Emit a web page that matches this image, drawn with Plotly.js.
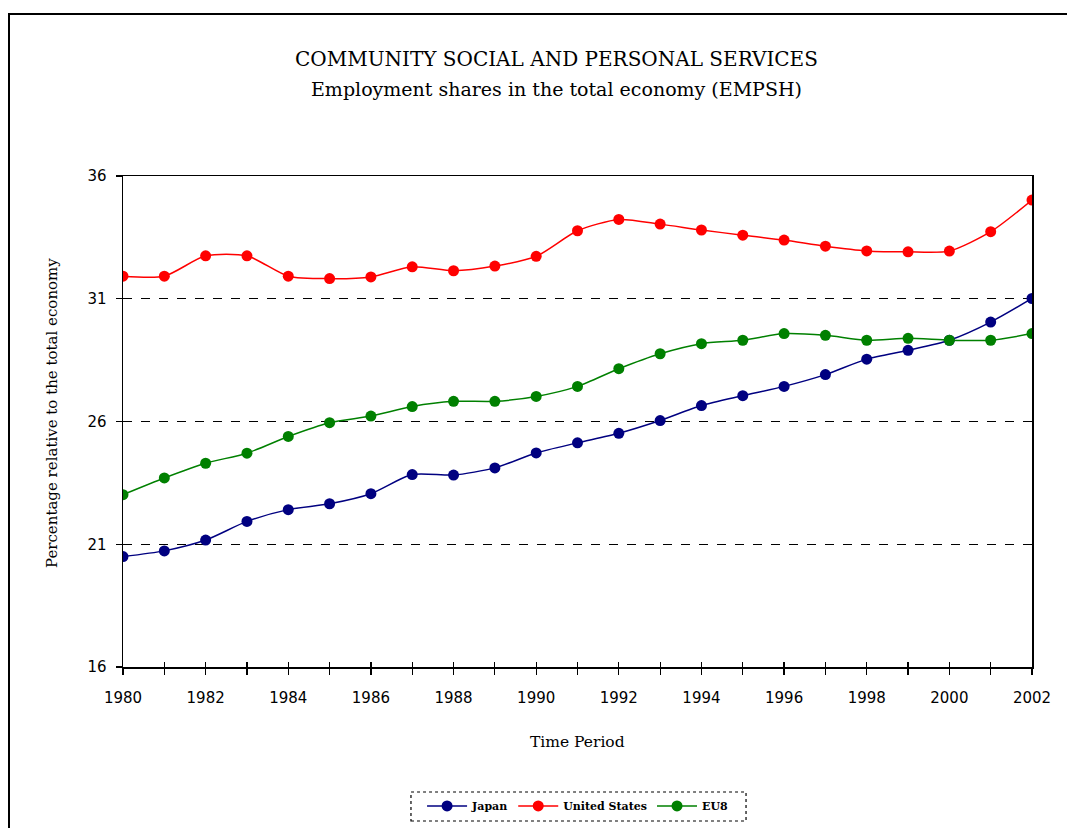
<!DOCTYPE html>
<html>
<head>
<meta charset="utf-8">
<script src="https://cdn.plot.ly/plotly-3.0.1.min.js"></script>
<style>
html,body{margin:0;padding:0;background:#fff;}
#wrap{position:relative;width:1067px;height:828px;overflow:hidden;}
#chart{position:absolute;left:0;top:0;width:1067px;height:828px;}
#frame{position:absolute;left:8px;top:13px;width:1200px;height:900px;border-top:2px solid #000;border-left:2px solid #000;pointer-events:none;}
</style>
</head>
<body>
<div id="wrap"><div id="chart"></div><div id="frame"></div></div>
<script>
const years = [1980,1981,1982,1983,1984,1985,1986,1987,1988,1989,1990,1991,1992,1993,1994,1995,1996,1997,1998,1999,2000,2001,2002];
const japan = [20.50,20.73,21.17,21.93,22.41,22.65,23.06,23.84,23.82,24.11,24.72,25.13,25.52,26.04,26.65,27.05,27.43,27.91,28.54,28.90,29.31,30.05,31.01];
const unitedStates = [31.92,31.92,32.75,32.75,31.92,31.82,31.89,32.30,32.14,32.33,32.73,33.77,34.23,34.04,33.80,33.59,33.39,33.14,32.95,32.91,32.94,33.73,35.02];
const eu8 = [23.02,23.70,24.30,24.71,25.39,25.95,26.22,26.61,26.82,26.82,27.02,27.43,28.15,28.76,29.17,29.31,29.58,29.51,29.31,29.39,29.31,29.31,29.58];
const seriesNames = ["Japan","United States","EU8"];
const seriesColors = ["#000080","#FF0000","#008000"];
const yTicks = [16,21,26,31,36];
const xTickLabels = years.map(y => (y % 2 === 0 ? String(y) : ""));
const titleLine1 = "COMMUNITY SOCIAL AND PERSONAL SERVICES";
const titleLine2 = "Employment shares in the total economy (EMPSH)";
const yTitle = "Percentage relative to the total economy";
const xTitle = "Time Period";

const serif = "DejaVu Serif, Liberation Serif, serif";
const sans = "DejaVu Sans, Verdana, sans-serif";

const allSeries = [japan, unitedStates, eu8];
const traces = allSeries.map((vals, i) => ({
  x: years, y: vals, name: seriesNames[i], type: "scatter", mode: "lines+markers",
  line: {color: seriesColors[i], width: 1.5, shape: "spline", smoothing: 0.7},
  marker: {color: seriesColors[i], size: 11, symbol: "circle"}
}));
traces.push({x: [years[0]], y: [yTicks[0]], xaxis: "x2", yaxis: "y2", mode: "markers",
  marker: {opacity: 0}, showlegend: false, hoverinfo: "skip"});

const layout = {
  width: 1067, height: 828,
  paper_bgcolor: "#fff", plot_bgcolor: "#fff",
  margin: {l: 123, r: 35, t: 176, b: 161},
  showlegend: true,
  xaxis: {
    range: [1980, 2002], tickmode: "array", tickvals: years, ticktext: xTickLabels,
    ticks: "outside", ticklen: 6, tickwidth: 1.2, tickcolor: "#000",
    showline: true, linecolor: "#000", linewidth: 1.5, mirror: true,
    showgrid: false, zeroline: false, automargin: false,
    ticklabelstandoff: 10,
    tickfont: {family: sans, size: 15, color: "#000"}
  },
  yaxis: {
    range: [16, 36], tickmode: "array", tickvals: yTicks, ticktext: yTicks.map(String),
    ticks: "outside", ticklen: 6, tickwidth: 1.2, tickcolor: "#000",
    showline: true, linecolor: "#000", linewidth: 1.5, mirror: true,
    showgrid: true, gridcolor: "#000", gridwidth: 1, griddash: "dash",
    zeroline: false, automargin: false,
    ticklabelstandoff: 6,
    tickfont: {family: sans, size: 15, color: "#000"}
  },
  xaxis2: {overlaying: "x", range: [1980, 2002], tickmode: "array", tickvals: years,
    ticks: "inside", ticklen: 5, tickwidth: 1.2, tickcolor: "#000", showticklabels: false,
    showgrid: false, zeroline: false, showline: false, anchor: "y"},
  yaxis2: {overlaying: "y", range: [16, 36], tickmode: "array", tickvals: yTicks,
    ticks: "inside", ticklen: 5, tickwidth: 1.2, tickcolor: "#000", showticklabels: false,
    showgrid: false, zeroline: false, showline: false, anchor: "x"},
  legend: {
    orientation: "h", xref: "container", yref: "container",
    x: 0.5413, xanchor: "center", y: 0.0266, yanchor: "middle",
    font: {family: serif, size: 11, color: "#000", weight: "bold"},
    bgcolor: "rgba(0,0,0,0)", borderwidth: 0, itemwidth: 40, tracegroupgap: 0
  },
  shapes: [{
    type: "rect", xref: "paper", yref: "paper",
    x0: 0.3168, x1: 0.6854, y0: -0.3136, y1: -0.2546,
    line: {color: "#000", width: 1.2, dash: "dot"}, fillcolor: "rgba(0,0,0,0)"
  }],
  annotations: [
    {text: titleLine1, xref: "paper", yref: "paper", x: 0.4774, y: 1.2383, xanchor: "center", yanchor: "middle",
     showarrow: false, font: {family: serif, size: 20, color: "#000"}},
    {text: titleLine2, xref: "paper", yref: "paper", x: 0.4774, y: 1.177, xanchor: "center", yanchor: "middle",
     showarrow: false, font: {family: serif, size: 19, color: "#000"}},
    {text: xTitle, xref: "paper", yref: "paper", x: 0.4995, y: -0.1527, xanchor: "center", yanchor: "middle",
     showarrow: false, font: {family: serif, size: 15.5, color: "#000"}},
    {text: yTitle, xref: "paper", yref: "paper", x: -0.0781, y: 0.5173, xanchor: "center", yanchor: "middle",
     textangle: -90, showarrow: false, font: {family: serif, size: 15, color: "#000"}}
  ]
};

Plotly.newPlot("chart", traces, layout, {displayModeBar: false, staticPlot: true});
</script>
</body>
</html>
